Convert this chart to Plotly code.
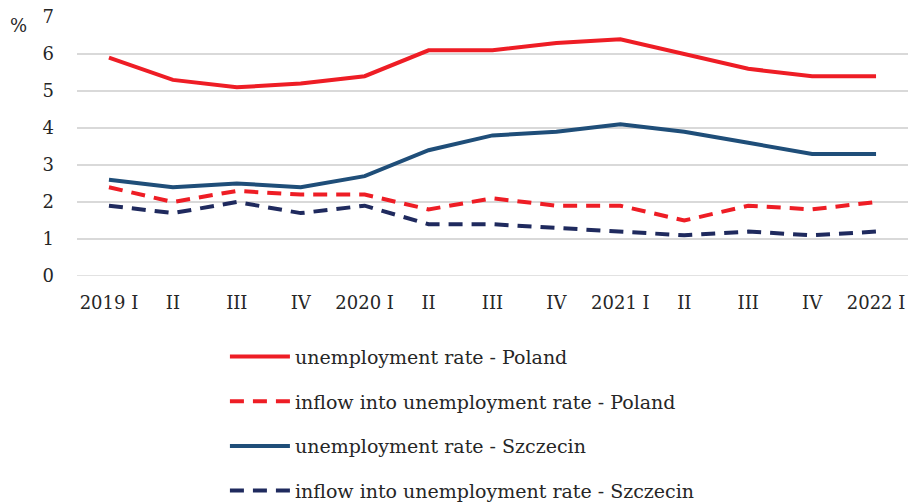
import plotly.graph_objects as go

quarters = ["2019 I", "II", "III", "IV", "2020 I", "II", "III", "IV",
            "2021 I", "II", "III", "IV", "2022 I"]
# category keys need to be unique, labels repeat
quarter_keys = [f"q{i}" for i in range(len(quarters))]

unemp_poland = [5.9, 5.3, 5.1, 5.2, 5.4, 6.1, 6.1, 6.3, 6.4, 6.0, 5.6, 5.4, 5.4]
inflow_poland = [2.4, 2.0, 2.3, 2.2, 2.2, 1.8, 2.1, 1.9, 1.9, 1.5, 1.9, 1.8, 2.0]
unemp_szczecin = [2.6, 2.4, 2.5, 2.4, 2.7, 3.4, 3.8, 3.9, 4.1, 3.9, 3.6, 3.3, 3.3]
inflow_szczecin = [1.9, 1.7, 2.0, 1.7, 1.9, 1.4, 1.4, 1.3, 1.2, 1.1, 1.2, 1.1, 1.2]

y_ticks = [0, 1, 2, 3, 4, 5, 6, 7]

RED = "#EE1D25"
BLUE = "#1F4E79"
NAVY = "#1F2A5E"
FONT = "DejaVu Serif"
TEXT = "#262626"
DASH = "14px,9px"

series = [
    ("unemployment rate - Poland", unemp_poland, RED, "solid"),
    ("inflow into unemployment rate - Poland", inflow_poland, RED, DASH),
    ("unemployment rate - Szczecin", unemp_szczecin, BLUE, "solid"),
    ("inflow into unemployment rate - Szczecin", inflow_szczecin, NAVY, DASH),
]

fig = go.Figure()
for i, (name, vals, color, dash) in enumerate(series):
    fig.add_trace(go.Scatter(
        x=quarter_keys, y=vals, name=name, mode="lines",
        legendgroup=f"g{i}",
        line=dict(color=color, width=4, dash=dash),
    ))

fig.update_layout(
    width=908, height=503,
    margin=dict(l=77, r=0, t=17, b=227, autoexpand=False),
    paper_bgcolor="white", plot_bgcolor="white",
    font=dict(family=FONT, size=18, color=TEXT),
    showlegend=True,
    legend=dict(
        x=0.178, y=-0.238, xanchor="left", yanchor="top",
        orientation="v", tracegroupgap=17,
        font=dict(family=FONT, size=19, color=TEXT),
        itemwidth=60,
    ),
    xaxis=dict(
        type="category", tickmode="array", tickvals=quarter_keys,
        ticktext=quarters, showgrid=False, showline=False, ticks="",
        ticklabelstandoff=14, zeroline=False, range=[-0.5, 12.5],
    ),
    yaxis=dict(
        range=[0, 7], tickvals=y_ticks, showgrid=True,
        gridcolor="#D9D9D9", gridwidth=1.5, zeroline=False,
        showline=False, ticks="", ticklabelstandoff=22,
    ),
    annotations=[dict(
        text="%", xref="paper", yref="paper", x=-0.058, y=1.0,
        xanchor="right", yanchor="top", yshift=4, showarrow=False,
        font=dict(family=FONT, size=18, color=TEXT),
    )],
)

# draw the y=0 gridline too
fig.add_shape(type="line", xref="paper", yref="y", x0=0, x1=1, y0=0, y1=0,
              line=dict(color="#D9D9D9", width=1.5), layer="below")

fig.write_html("out.html")
